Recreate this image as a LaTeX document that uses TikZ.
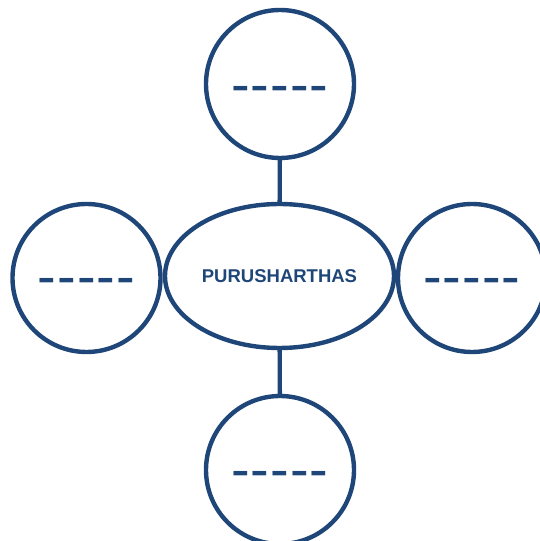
\documentclass[tikz,border=0pt]{standalone}
\usepackage{fontspec}
\setmainfont{Liberation Sans}
\usetikzlibrary{shapes.geometric}
\definecolor{pblue}{RGB}{31,70,120}
\begin{document}
\begin{tikzpicture}[x=1pt,y=1pt,
	artha/.style={circle,draw=pblue,line width=4.4pt,minimum size=148pt,inner sep=0pt},
	blank/.style={anchor=base,text=pblue,inner sep=0pt,font=\fontsize{56}{56}\selectfont},
	link/.style={draw=pblue,line width=4.4pt}]
		\useasboundingbox (0,0) rectangle (540,541);
		\node[ellipse,draw=pblue,line width=4.4pt,minimum width=229pt,minimum height=144pt,text=pblue,font=\fontsize{18.5}{18.5}\selectfont\bfseries] (core) at(279.5,265) {PURUSHARTHAS};
		\node[artha] (top) at(280,457) {};
		\node[artha] (left) at(86.5,263) {};
		\node[artha] (right) at(472,263) {};
		\node[artha] (bottom) at(280,71) {};
		
		\node[blank] at([yshift=-19.5]top.center) {-\kern1pt-\kern1pt-\kern1pt-\kern1pt-};
		\node[blank] at([yshift=-18]left.center) {-\kern1pt-\kern1pt-\kern1pt-\kern1pt-};
		\node[blank] at([yshift=-18]right.center) {-\kern1pt-\kern1pt-\kern1pt-\kern1pt-};
		\node[blank] at([yshift=-19]bottom.center) {-\kern1pt-\kern1pt-\kern1pt-\kern1pt-};
		
		\draw[link] (top) -- (core);
		\draw[link] (core) -- (bottom);
		\end{tikzpicture}
\end{document}
